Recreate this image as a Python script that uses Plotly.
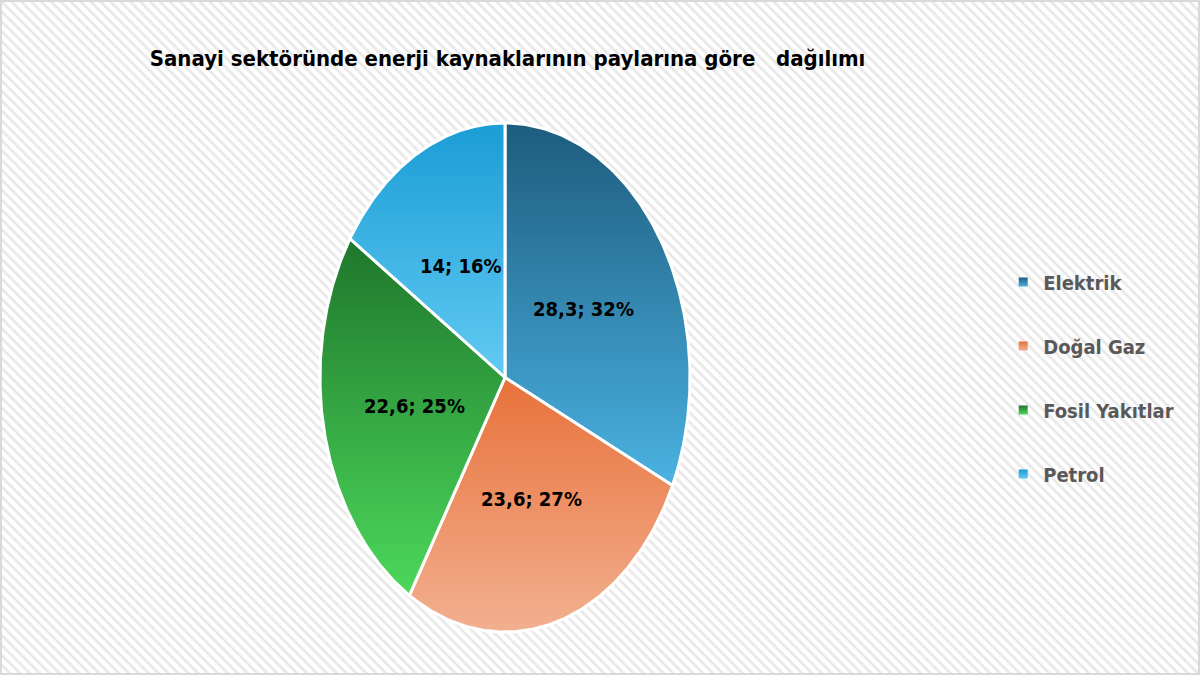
import numpy as np
import plotly.graph_objects as go

labels = ["Elektrik", "Doğal Gaz", "Fosil Yakıtlar", "Petrol"]
values = [28.3, 23.6, 22.6, 14]
percents = [32, 27, 25, 16]
top_colors = ["#1d5c7d", "#e8713a", "#1f772c", "#1a9dd5"]
bottom_colors = ["#4ab2e2", "#f2b090", "#4cd85b", "#62caf3"]
title = "Sanayi sektöründe enerji kaynaklarının paylarına göre&nbsp;&nbsp;&nbsp;dağılımı"

FONT = "DejaVu Sans Condensed, sans-serif"
W, H = 1200, 675
cx, cy, rx, ry = 505, 377.5, 185, 254.5

fig = go.Figure()

# hatched background
fig.add_trace(go.Scatter(
    x=[0, W, W, 0, 0], y=[0, 0, H, H, 0], mode="lines", fill="toself",
    line=dict(width=0), fillcolor="white",
    fillpattern=dict(shape="\\", fgcolor="#d2d2d2", bgcolor="white", size=7, solidity=0.4),
    hoverinfo="skip", showlegend=False,
))

total = sum(values)
cum = 0
for name, v, p, c0, c1 in zip(labels, values, percents, top_colors, bottom_colors):
    a0 = cum / total * 2 * np.pi
    a1 = (cum + v) / total * 2 * np.pi
    t = np.linspace(a0, a1, 120)
    xs = np.concatenate([[cx], cx + rx * np.sin(t), [cx]])
    ys = np.concatenate([[cy], cy - ry * np.cos(t), [cy]])
    fig.add_trace(go.Scatter(
        x=xs, y=ys, mode="lines", fill="toself",
        line=dict(color="white", width=3),
        fillgradient=dict(type="vertical", colorscale=[[0, c1], [1, c0]]),
        name=name, showlegend=False, hoverinfo="name",
    ))
    am = (a0 + a1) / 2
    txt = f"{v:g}".replace(".", ",") + f"; {p}%"
    fig.add_annotation(
        x=cx + 0.5 * rx * np.sin(am), y=cy - 0.5 * ry * np.cos(am),
        text=f"<b>{txt}</b>", showarrow=False,
        font=dict(family=FONT, size=20, color="black"),
    )
    cum += v

# legend entries
for i, (name, c0, c1) in enumerate(zip(labels, top_colors, bottom_colors)):
    fig.add_trace(go.Scatter(
        x=[None], y=[None], mode="markers", name=f"<b>{name}</b>",
        legendgroup=str(i),
        marker=dict(symbol="square", size=9, color=c0,
                    gradient=dict(type="vertical", color=c1)),
    ))

fig.add_shape(type="rect", xref="paper", yref="paper", x0=0, y0=0, x1=1, y1=1,
              line=dict(color="#d9d9d9", width=4))

fig.update_layout(
    width=W, height=H,
    margin=dict(l=0, r=0, t=0, b=0),
    paper_bgcolor="white", plot_bgcolor="white",
    xaxis=dict(range=[0, W], visible=False, fixedrange=True),
    yaxis=dict(range=[H, 0], visible=False, fixedrange=True),
    title=dict(text=f"<b>{title}</b>", x=0.423, xanchor="center", y=0.914, yanchor="middle",
               font=dict(family=FONT, size=22, color="black")),
    legend=dict(x=0.836, y=0.611, xanchor="left", yanchor="top",
                font=dict(family=FONT, size=20, color="#595959"),
                tracegroupgap=35, bgcolor="rgba(0,0,0,0)", itemwidth=30),
    showlegend=True,
)

fig.write_html("out.html", config={"displayModeBar": False},
               post_script="document.body.style.margin='0';")
